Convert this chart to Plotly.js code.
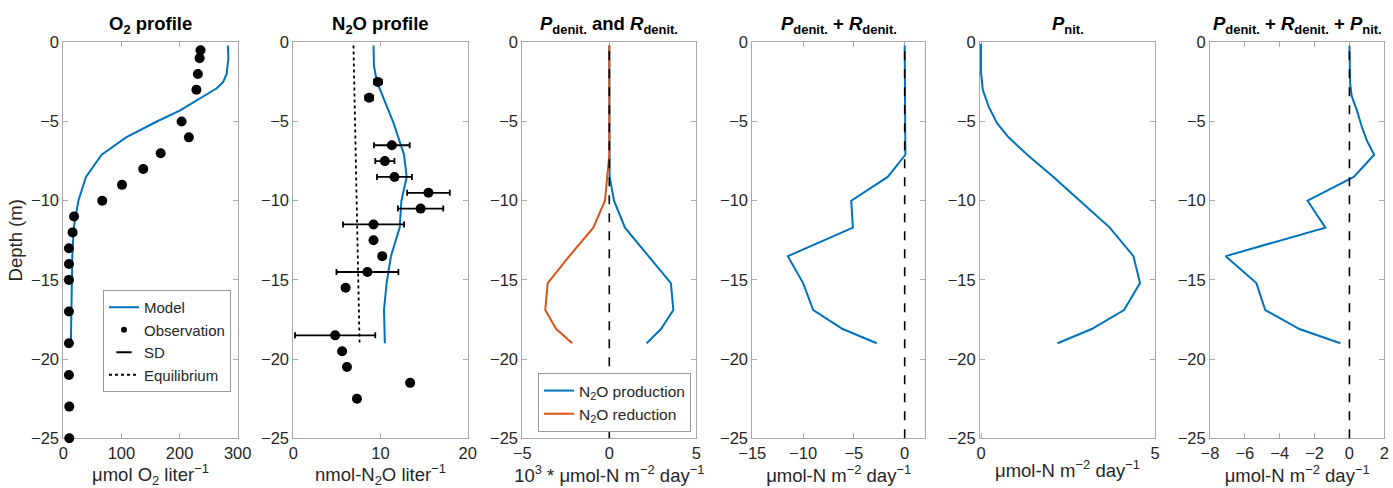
<!DOCTYPE html>
<html>
<head>
<meta charset="utf-8">
<script src="https://cdn.plot.ly/plotly-3.0.1.min.js"></script>
<style>html,body{margin:0;padding:0;background:#fff}#chart{width:1393px;height:488px}</style>
</head>
<body>
<div id="chart"></div>
<script>
// ---------- Data ----------
// O2 profile
const o2ObsDepth = [-0.5, -1, -2, -3, -5, -6, -7, -8, -9, -10, -11, -12, -13, -14, -15, -17, -19, -21, -23, -25];
const o2Obs = [236, 234.5, 231.5, 229, 203.5, 216, 167.5, 137.5, 101, 67, 18.5, 16, 9.7, 9.7, 9.7, 9.7, 9.7, 9.7, 10.3, 10.3];
const o2ModelDepth = [-0.2, -1, -2, -2.5, -2.9, -3.4, -4.3, -5, -5.5, -6, -7.1, -8.5, -10, -11.7, -13.5, -15.2, -16.9, -18.1, -19];
const o2Model = [283, 284, 281, 275, 264, 241, 201, 161, 135, 108, 66, 39, 26, 18, 15.5, 14.5, 13.5, 13, 13];

// N2O profile
const n2oObsDepth = [-2.5, -3.5, -6.5, -7.5, -8.5, -9.5, -10.5, -11.5, -14.5, -18.5];
const n2oObs = [9.7, 8.7, 11.3, 10.5, 11.6, 15.5, 14.6, 9.2, 8.5, 4.8];
const n2oSD = [0.45, 0.45, 2.05, 1.1, 2.0, 2.45, 2.6, 3.5, 3.55, 4.6];
const n2oObsNoSDDepth = [-12.5, -13.5, -15.5, -19.5, -20.5, -21.5, -22.5];
const n2oObsNoSD = [9.2, 10.2, 6.0, 5.6, 6.15, 13.4, 7.3];
const n2oModelDepth = [-0.2, -1.5, -2.5, -3.5, -5.1, -7.1, -8.5, -10, -11.7, -13.5, -15.2, -16.9, -18.1, -19];
const n2oModel = [9.2, 9.25, 9.6, 10.3, 11.5, 12.7, 13.0, 12.4, 12.2, 11.2, 10.7, 10.4, 10.45, 10.5];
const n2oEqDepth = [-0.2, -19];
const n2oEq = [6.9, 7.6];

// Denitrification production / reduction (10^3 umol-N m-2 day-1)
const rateDepth = [-0.2, -7.1, -8.5, -10, -11.7, -13.5, -15.2, -16.9, -18.1, -19];
const prodDenit = [0, 0, 0.02, 0.27, 0.9, 2.25, 3.54, 3.68, 2.97, 2.15];
const redDenit = [0, 0, -0.12, -0.25, -0.92, -2.3, -3.54, -3.68, -3.05, -2.13];

// P_denit + R_denit
const sumDenit = [0, 0.07, -1.67, -5.26, -5.1, -11.5, -10.0, -9.0, -6.1, -2.75];

// P_nit
const nitDepth = [-0.1, -1.9, -3.0, -4.06, -5.1, -6.0, -7.1, -8.5, -10, -11.7, -13.5, -15.2, -16.9, -18.1, -19];
const pNit = [0, 0, 0.05, 0.22, 0.46, 0.79, 1.33, 2.08, 2.84, 3.7, 4.38, 4.57, 4.11, 3.18, 2.2];

// P_denit + R_denit + P_nit
const totDepth = [-0.2, -2.6, -3.4, -4.27, -5.33, -6.2, -7.1, -8.5, -10, -11.7, -13.5, -15.2, -16.9, -18.1, -19];
const totRate = [0, 0.04, 0.13, 0.42, 0.71, 1.0, 1.42, 0.25, -2.4, -1.38, -7.1, -5.34, -4.83, -2.87, -0.52];

const panelTitles = [
  "<b>O<sub>2</sub> profile</b>",
  "<b>N<sub>2</sub>O profile</b>",
  "<b><i>P</i><sub>denit.</sub> and <i>R</i><sub>denit.</sub></b>",
  "<b><i>P</i><sub>denit.</sub> + <i>R</i><sub>denit.</sub></b>",
  "<b><i>P</i><sub>nit.</sub></b>",
  "<b><i>P</i><sub>denit.</sub> + <i>R</i><sub>denit.</sub> + <i>P</i><sub>nit.</sub></b>"
];
const xTitles = [
  "μmol O<sub>2</sub> liter<sup>−1</sup>",
  "nmol-N<sub>2</sub>O liter<sup>−1</sup>",
  "10<sup>3</sup> * μmol-N m<sup>−2</sup> day<sup>−1</sup>",
  "μmol-N m<sup>−2</sup> day<sup>−1</sup>",
  "μmol-N m<sup>−2</sup> day<sup>−1</sup>",
  "μmol-N m<sup>−2</sup> day<sup>−1</sup>"
];
const legendNames = ["Model", "Observation", "SD", "Equilibrium", "N<sub>2</sub>O production", "N<sub>2</sub>O reduction"];
const xRanges = [[0, 300], [0, 20], [-5, 5], [-15, 2], [-0.03, 5], [-8, 2]];
const xTickVals = [[0, 100, 200, 300], [0, 10, 20], [-5, 0, 5], [-15, -10, -5, 0], [0, 5], [-8, -6, -4, -2, 0, 2]];
const depthTicks = [0, -5, -10, -15, -20, -25];

// ---------- Style ----------
const BLUE = "#0072BD", ORANGE = "#D95319";
const FONT = "Liberation Sans, Arial, Helvetica, sans-serif";
const W = 1393, H = 488;
const lefts = [63.3, 293.3, 522.3, 752.3, 980, 1210];
const rights = [237.7, 467.7, 696.3, 925, 1155, 1384.3];
const yTop = 42.3, yBot = 438.3;
const yDom = [1 - yBot / H, 1 - yTop / H];

const traces = [
  {x: o2Model, y: o2ModelDepth, xaxis: "x", yaxis: "y", mode: "lines", name: legendNames[0],
   line: {color: BLUE, width: 2}, legend: "legend"},
  {x: o2Obs, y: o2ObsDepth, xaxis: "x", yaxis: "y", mode: "markers", showlegend: false, cliponaxis: false,
   marker: {color: "black", size: 10}},
  // legend-only entries
  {x: [null], y: [null], xaxis: "x", yaxis: "y", mode: "markers", name: legendNames[1],
   marker: {color: "black", size: 6}, legend: "legend"},
  {x: [null], y: [null], xaxis: "x", yaxis: "y", mode: "markers", name: legendNames[2],
   marker: {symbol: "line-ew", size: 11, color: "black", line: {color: "black", width: 2}}, legend: "legend"},
  {x: n2oEq, y: n2oEqDepth, xaxis: "x2", yaxis: "y2", mode: "lines", name: legendNames[3],
   line: {color: "black", width: 1.8, dash: "dot"}, legend: "legend"},
  {x: n2oModel, y: n2oModelDepth, xaxis: "x2", yaxis: "y2", mode: "lines", showlegend: false,
   line: {color: BLUE, width: 2}},
  {x: n2oObs, y: n2oObsDepth, xaxis: "x2", yaxis: "y2", mode: "markers", showlegend: false,
   marker: {color: "black", size: 10},
   error_x: {type: "data", array: n2oSD, visible: true, color: "black", thickness: 1.8, width: 3}},
  {x: n2oObsNoSD, y: n2oObsNoSDDepth, xaxis: "x2", yaxis: "y2", mode: "markers", showlegend: false,
   marker: {color: "black", size: 10}},
  {x: prodDenit, y: rateDepth, xaxis: "x3", yaxis: "y3", mode: "lines", name: legendNames[4],
   line: {color: BLUE, width: 2}, legend: "legend2"},
  {x: redDenit, y: rateDepth, xaxis: "x3", yaxis: "y3", mode: "lines", name: legendNames[5],
   line: {color: ORANGE, width: 2}, legend: "legend2"},
  {x: sumDenit, y: rateDepth, xaxis: "x4", yaxis: "y4", mode: "lines", showlegend: false,
   line: {color: BLUE, width: 2}},
  {x: pNit, y: nitDepth, xaxis: "x5", yaxis: "y5", mode: "lines", showlegend: false,
   line: {color: BLUE, width: 2}},
  {x: totRate, y: totDepth, xaxis: "x6", yaxis: "y6", mode: "lines", showlegend: false,
   line: {color: BLUE, width: 2}}
];

const layout = {
  width: W, height: H,
  margin: {l: 0, r: 0, t: 0, b: 0},
  paper_bgcolor: "white", plot_bgcolor: "white",
  font: {family: FONT, color: "#262626", size: 16},
  showlegend: true,
  legend: {x: 103 / W, y: 1 - 341 / H, xanchor: "left", yanchor: "middle",
    bgcolor: "white", bordercolor: "#9a9a9a", borderwidth: 1,
    font: {family: FONT, size: 15, color: "#262626"}, itemwidth: 30, tracegroupgap: 0},
  legend2: {x: 538 / W, y: 1 - 373 / H, xanchor: "left", yanchor: "top",
    bgcolor: "white", bordercolor: "#9a9a9a", borderwidth: 1,
    font: {family: FONT, size: 15.5, color: "#262626"}, itemwidth: 30},
  annotations: [],
  shapes: []
};

for (let i = 0; i < 6; i++) {
  const s = i === 0 ? "" : String(i + 1);
  layout["xaxis" + s] = {
    domain: [lefts[i] / W, rights[i] / W], anchor: "y" + s,
    range: xRanges[i], tickvals: xTickVals[i], showgrid: false, zeroline: false,
    showline: true, mirror: "ticks", linecolor: "#a8a8a8", linewidth: 1,
    ticks: "inside", ticklen: 5, tickcolor: "#a8a8a8", layer: "below traces",
    tickfont: {size: 16.5, color: "#262626"},
    title: {text: xTitles[i], font: {size: 18.5, color: "#262626"}, standoff: 2}
  };
  layout["yaxis" + s] = {
    domain: yDom, anchor: "x" + s,
    range: [-25, 0], tickvals: depthTicks, showgrid: false, zeroline: false,
    showline: true, mirror: "ticks", linecolor: "#a8a8a8", linewidth: 1,
    ticks: "inside", ticklen: 5, tickcolor: "#a8a8a8", layer: "below traces",
    tickfont: {size: 16.5, color: "#262626"},
    title: i === 0 ? {text: "Depth (m)", font: {size: 18.5, color: "#262626"}, standoff: 3} : {text: ""}
  };
  layout.annotations.push({
    text: panelTitles[i], xref: "paper", yref: "paper",
    x: (lefts[i] + rights[i]) / 2 / W, y: yDom[1], xanchor: "center", yanchor: "bottom",
    yshift: 3, showarrow: false, font: {family: FONT, size: 18.5, color: "black"}
  });
}

// zero reference lines
[["x3", "y3"], ["x4", "y4"], ["x6", "y6"]].forEach(([xa, ya]) => {
  layout.shapes.push({type: "line", xref: xa, yref: ya + " domain", x0: 0, x1: 0, y0: 0, y1: 1,
    line: {color: "black", width: 1.6, dash: "dash"}});
});

Plotly.newPlot("chart", traces, layout, {staticPlot: true, displayModeBar: false});
</script>
</body>
</html>
